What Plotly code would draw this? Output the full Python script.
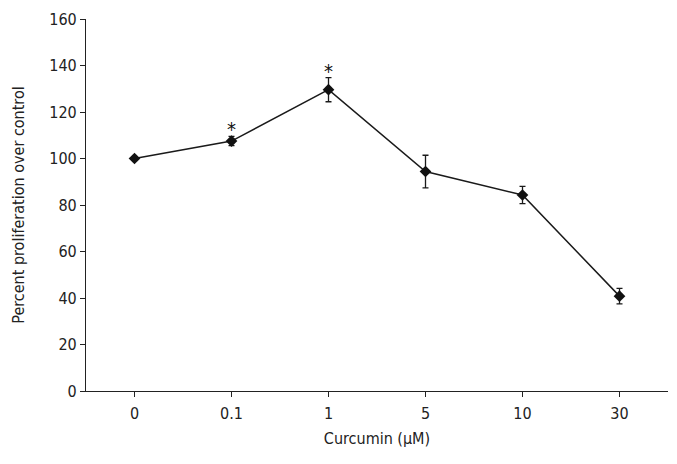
import plotly.graph_objects as go

doses = ["0", "0.1", "1", "5", "10", "30"]
proliferation = [100, 107.5, 129.6, 94.4, 84.3, 40.8]
errors = [0, 2.0, 5.2, 7.0, 3.7, 3.3]
significant = [False, True, True, False, False, False]

FONT = "DejaVu Sans Condensed, Liberation Sans Narrow, sans-serif"

fig = go.Figure()
fig.add_trace(go.Scatter(
    x=doses, y=proliferation,
    mode="lines+markers",
    line=dict(color="#1a1a1a", width=1.5),
    marker=dict(symbol="diamond", size=9, color="#111111"),
    error_y=dict(type="data", array=errors, visible=True, color="#1a1a1a", thickness=1.3, width=3),
    showlegend=False,
))

for i, (v, e, s) in enumerate(zip(proliferation, errors, significant)):
    if s:
        fig.add_annotation(x=i, y=v + e, text="*", showarrow=False,
                           yanchor="bottom", yshift=-7,
                           font=dict(family=FONT, size=20, color="#111111"))

fig.update_layout(
    width=677, height=464,
    margin=dict(l=86, r=9, t=19, b=73),
    plot_bgcolor="white", paper_bgcolor="white",
    font=dict(family=FONT, size=16, color="#222222"),
)
fig.update_xaxes(
    type="category", range=[-0.5, 5.5], automargin=False,
    showline=True, linecolor="#222222", linewidth=1.2,
    ticks="outside", ticklen=5, tickwidth=1, tickcolor="#222222",
    showgrid=False, zeroline=False, ticklabelstandoff=3,
    title=dict(text="Curcumin (μM)", font=dict(size=16), standoff=10),
    tickfont=dict(size=16),
)
fig.update_yaxes(
    range=[0, 160], dtick=20, automargin=False,
    showline=True, linecolor="#222222", linewidth=1.2,
    ticks="outside", ticklen=5, tickwidth=1, tickcolor="#222222",
    showgrid=False, zeroline=False,
    title=dict(text="Percent proliferation over control", font=dict(size=16), standoff=20),
    tickfont=dict(size=16),
)

fig.write_html("out.html", config={"displayModeBar": False},
               post_script="document.body.style.margin='0';")
